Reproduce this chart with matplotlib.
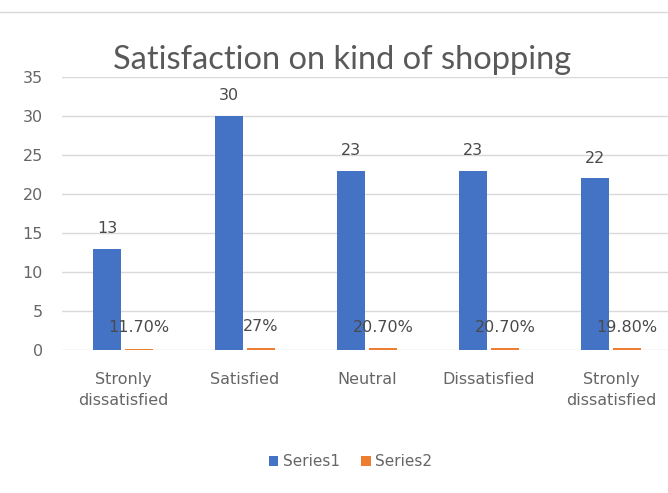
import matplotlib.pyplot as plt
import numpy as np

plt.rcParams['font.family'] = ['DejaVu Sans']

categories = ["Stronly\ndissatisfied", "Satisfied", "Neutral", "Dissatisfied", "Stronly\ndissatisfied"]
series1 = [13, 30, 23, 23, 22]
series2 = [0.117, 0.27, 0.207, 0.207, 0.198]
series2_labels = ["11.70%", "27%", "20.70%", "20.70%", "19.80%"]

blue = '#4472C4'
orange = '#ED7D31'
grey = '#666666'

fig = plt.figure(figsize=(6.68, 4.93), dpi=100)
ax = fig.add_axes([0.093, 0.29, 0.913, 0.554])

x = np.arange(len(categories))
w = 0.23
b1 = ax.bar(x - 0.13, series1, w, color=blue, label='Series1', zorder=3)
b2 = ax.bar(x + 0.13, series2, w, color=orange, label='Series2', zorder=3)

for xi, v in zip(x, series1):
    ax.annotate(str(v), (xi - 0.13, v), xytext=(0, 9), textcoords='offset points',
                ha='center', va='bottom', fontsize=11.5, color='#4a4a4a')
for xi, v, lab in zip(x, series2, series2_labels):
    ax.annotate(lab, (xi + 0.13, v), xytext=(0, 10), textcoords='offset points',
                ha='center', va='bottom', fontsize=11.5, color='#4a4a4a')

ax.set_xlim(-0.5, 4.5)
ax.set_ylim(0, 35)
ax.set_yticks(range(0, 36, 5))
ax.set_xticks(x)
ax.set_xticklabels(categories, linespacing=1.5)
ax.tick_params(length=0, labelsize=11.5, labelcolor=grey)
ax.tick_params(axis='y', pad=14)
ax.tick_params(axis='x', pad=16)
ax.grid(axis='y', color='#d9d9d9', linewidth=1, zorder=0)
for s in ax.spines.values():
    s.set_visible(False)

fig.text(0.512, 0.879, "Satisfaction on kind of shopping", ha='center', va='center',
         fontsize=23.5, color='#595959', family=['Lato', 'DejaVu Sans'])

# thin rule at the top of the screenshot
fig.add_artist(plt.Line2D([0, 1], [0.976, 0.976], color='#d9d9d9', linewidth=1))

fig.legend(handles=[b1, b2], loc='center', bbox_to_anchor=(0.525, 0.063), ncol=2,
           frameon=False, fontsize=11, handlelength=0.6, handleheight=0.6,
           columnspacing=1.4, handletextpad=0.3, labelcolor=grey)

fig.savefig('out.png', dpi=100)
